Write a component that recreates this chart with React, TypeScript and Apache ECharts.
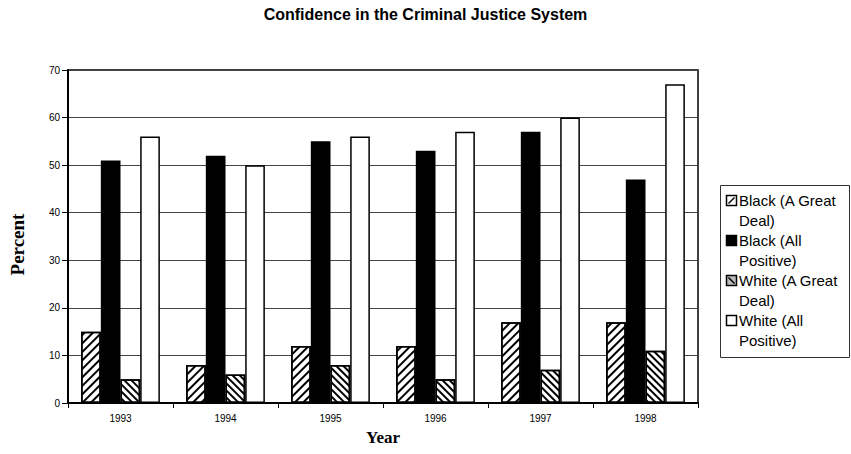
import React, { useEffect, useRef } from "react";
import * as echarts from "echarts";

const years = ["1993", "1994", "1995", "1996", "1997", "1998"];
const blackGreatDeal = [15, 8, 12, 12, 17, 17];
const blackAllPositive = [51, 52, 55, 53, 57, 47];
const whiteGreatDeal = [5, 6, 8, 5, 7, 11];
const whiteAllPositive = [56, 50, 56, 57, 60, 67];
const seriesNames = [
  "Black (A Great Deal)",
  "Black (All Positive)",
  "White (A Great Deal)",
  "White (All Positive)",
];
const legendLines = [
  "Black (A Great\nDeal)",
  "Black (All\nPositive)",
  "White (A Great\nDeal)",
  "White (All\nPositive)",
];

const SANS = "'Liberation Sans', Arial, sans-serif";
const SERIF = "'Liberation Serif', 'Times New Roman', serif";

export default function App() {
  const ref = useRef<HTMLDivElement>(null);
  useEffect(() => {
    if (!ref.current) return;
    const chart = echarts.init(ref.current, null, { renderer: "svg" });
    const border = { borderColor: "#000", borderWidth: 1.5 };
    const legendX = 726.5;
    const legendTop = 195.5;
    const step = 40;
    const legendGraphics: any[] = [
      {
        type: "rect",
        shape: { x: 720.5, y: 185.5, width: 129, height: 172 },
        style: { fill: "#fff", stroke: "#333", lineWidth: 1 },
        z: 10,
      },
    ];
    legendLines.forEach((t, i) => {
      const y = legendTop + i * step;
      const fill = i === 1 ? "#000" : i === 2 ? "#bbb" : "#fff";
      legendGraphics.push({
        type: "rect",
        shape: { x: legendX, y, width: 10, height: 10 },
        style: { fill, stroke: "#000", lineWidth: 1.5 },
        z: 11,
      });
      if (i === 0) {
        legendGraphics.push({
          type: "line",
          shape: { x1: legendX + 2, y1: y + 8, x2: legendX + 8, y2: y + 2 },
          style: { stroke: "#000", lineWidth: 1.5 },
          z: 12,
        });
      }
      if (i === 2) {
        legendGraphics.push({
          type: "line",
          shape: { x1: legendX + 2, y1: y + 2, x2: legendX + 8, y2: y + 8 },
          style: { stroke: "#000", lineWidth: 1.5 },
          z: 12,
        });
      }
      legendGraphics.push({
        type: "text",
        x: 739,
        y: y - 5.5,
        style: {
          text: t,
          font: `15px ${SANS}`,
          fill: "#000",
          lineHeight: 20,
          verticalAlign: "top",
          align: "left",
        },
        z: 12,
      });
    });

    chart.setOption({
      animation: false,
      backgroundColor: "#fff",
      title: {
        text: "Confidence in the Criminal Justice System",
        left: "center",
        top: 6,
        padding: 0,
        textStyle: { fontFamily: SANS, fontSize: 16, fontWeight: "bold", color: "#000" },
      },
      grid: {
        left: 65,
        right: 153,
        top: 70,
        bottom: 51,
        show: true,
        borderColor: "#000",
        borderWidth: 1.5,
        backgroundColor: "transparent",
      },
      xAxis: {
        type: "category",
        data: years,
        name: "Year",
        nameLocation: "middle",
        nameGap: 26,
        nameTextStyle: { fontFamily: SERIF, fontSize: 17, fontWeight: "bold", color: "#000" },
        axisLine: { lineStyle: { color: "#000", width: 2 } },
        axisTick: { show: true, length: 5, lineStyle: { color: "#000" } },
        axisLabel: { fontFamily: SANS, fontSize: 10, color: "#000", margin: 10 },
      },
      yAxis: {
        type: "value",
        min: 0,
        max: 70,
        interval: 10,
        name: "Percent",
        nameLocation: "middle",
        nameGap: 41,
        nameTextStyle: {
          fontFamily: SERIF,
          fontSize: 19,
          fontWeight: "bold",
          color: "#000",
          padding: [0, 16, 0, 0],
        },
        axisLine: { show: true, lineStyle: { color: "#000", width: 2 } },
        axisTick: { show: true, length: 6, lineStyle: { color: "#000" } },
        axisLabel: { fontFamily: SANS, fontSize: 10, color: "#000", margin: 8 },
        splitLine: { show: true, lineStyle: { color: "#444", width: 1 } },
      },
      series: [
        {
          name: seriesNames[0],
          type: "bar",
          data: blackGreatDeal,
          barGap: "0%",
          barCategoryGap: "25%",
          itemStyle: {
            color: "#fff",
            ...border,
            decal: {
              symbol: "rect",
              symbolSize: 1,
              dashArrayX: [1, 0],
              dashArrayY: [2, 4],
              rotation: -Math.PI / 4,
              color: "#000",
            },
          },
        },
        {
          name: seriesNames[1],
          type: "bar",
          data: blackAllPositive,
          barGap: "0%",
          barCategoryGap: "25%",
          itemStyle: { color: "#000", ...border },
        },
        {
          name: seriesNames[2],
          type: "bar",
          data: whiteGreatDeal,
          barGap: "0%",
          barCategoryGap: "25%",
          itemStyle: {
            color: "#fff",
            ...border,
            decal: {
              symbol: "rect",
              symbolSize: 1,
              dashArrayX: [1, 0],
              dashArrayY: [2, 3],
              rotation: Math.PI / 4,
              color: "#000",
            },
          },
        },
        {
          name: seriesNames[3],
          type: "bar",
          data: whiteAllPositive,
          barGap: "0%",
          barCategoryGap: "25%",
          itemStyle: { color: "#fff", ...border },
        },
      ],
      graphic: legendGraphics,
    });
    return () => chart.dispose();
  }, []);
  return (
    <div
      ref={ref}
      style={{ position: "absolute", left: 0, top: 0, width: 851, height: 454 }}
    />
  );
}
